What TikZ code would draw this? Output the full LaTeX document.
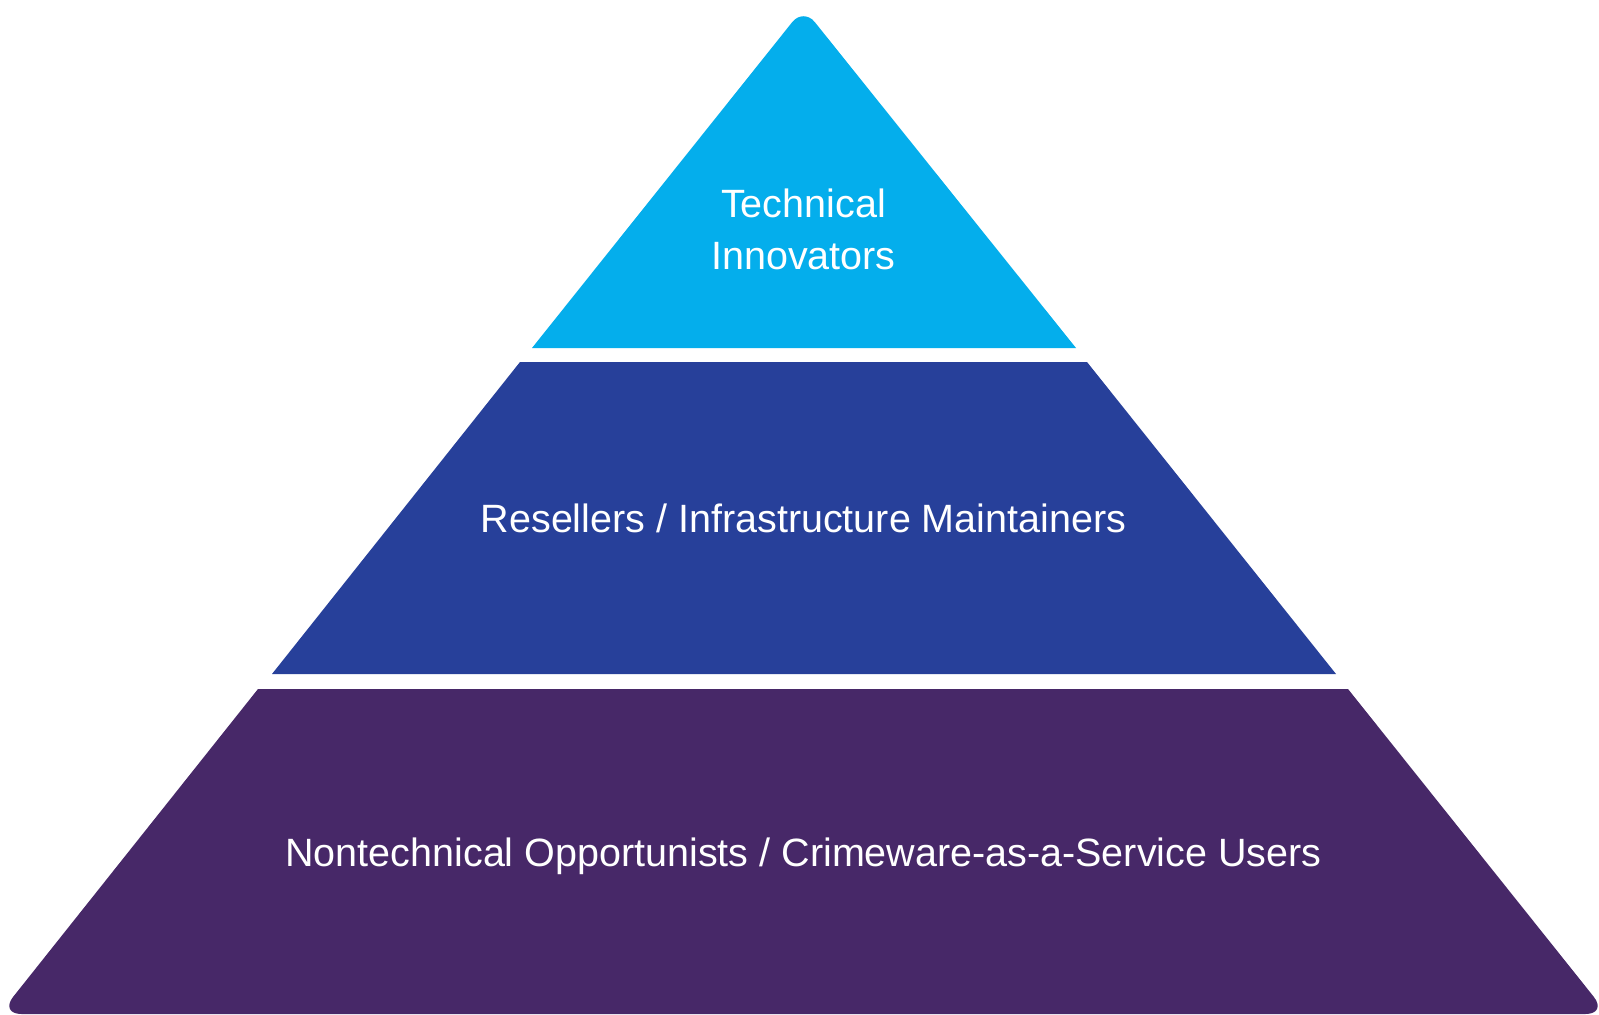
\documentclass[tikz,border=0pt]{standalone}
\usepackage{fontspec}
\setmainfont{Liberation Sans}
\usetikzlibrary{calc}
\definecolor{tiertop}{HTML}{04AEEC}
\definecolor{tiermid}{HTML}{27409A}
\definecolor{tierbot}{HTML}{472868}
\begin{document}
\begin{tikzpicture}[x=1pt,y=-1pt,
  lbl/.style={text=white,font=\fontsize{39.5}{46}\selectfont,anchor=base,inner sep=0pt}]
\useasboundingbox (0,0) rectangle (1599,1015);
\fill[white] (0,0) rectangle (1599,1015);
\coordinate (apex) at (803.5,8);
\coordinate (tl) at (532,348);
\coordinate (tr) at (1076,348);
\coordinate (bl) at (-0.5,1014);
\coordinate (br) at (1607.5,1014);
\coordinate (btl) at (258,689);
\coordinate (btr) at (1348,689);
% rounding points
\coordinate (a1) at ($(apex)!18pt!(tl)$);
\coordinate (a2) at ($(apex)!18pt!(tr)$);
\coordinate (r1) at ($(br)!22pt!(btr)$);
\coordinate (r2) at ($(br)!22pt!(bl)$);
\coordinate (l1) at ($(bl)!22pt!(br)$);
\coordinate (l2) at ($(bl)!22pt!(btl)$);
\begin{scope}
\clip (0,0) rectangle (1599,1015);
% top tier
\fill[tiertop] (tl) -- (a1) .. controls ($(a1)!0.552!(apex)$) and ($(a2)!0.552!(apex)$) .. (a2) -- (tr) -- cycle;
% middle tier
\fill[tiermid] (520,362) -- (1087,362) -- (1336,674) -- (272,674) -- cycle;
% bottom tier
\fill[tierbot] (btl) -- (btr) -- (r1) .. controls ($(r1)!0.552!(br)$) and ($(r2)!0.552!(br)$) .. (r2)
  -- (l1) .. controls ($(l1)!0.552!(bl)$) and ($(l2)!0.552!(bl)$) .. (l2) -- cycle;
\end{scope}
\node[lbl] (t1) at (803.5,217) {Technical};
\node[lbl] (t2) at (803.5,269) {Innovators};
\node[lbl] (m) at (803.5,532) {Resellers / Infrastructure Maintainers};
\node[lbl] (b) at (803.5,866) {Nontechnical Opportunists / Crimeware-as-a-Service Users};
\end{tikzpicture}
\end{document}
